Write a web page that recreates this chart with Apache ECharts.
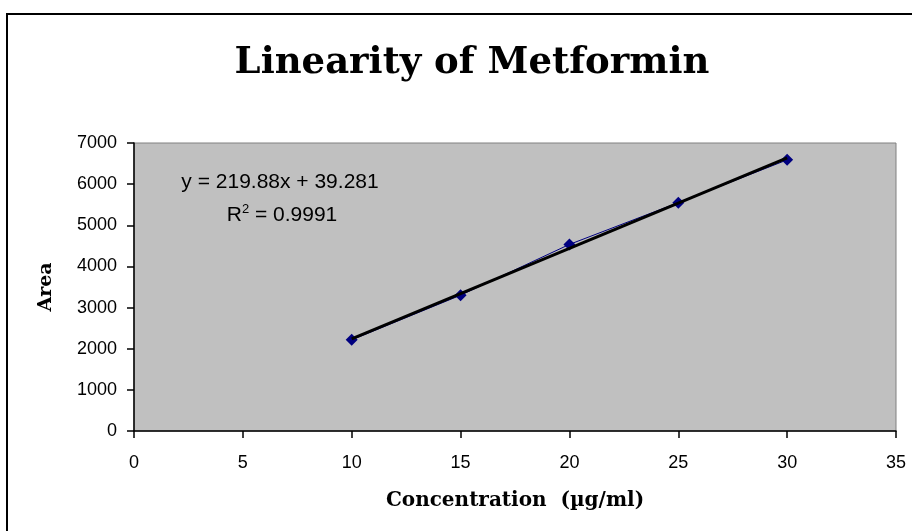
<!DOCTYPE html>
<html>
<head>
<meta charset="utf-8">
<script src="https://cdn.jsdelivr.net/npm/echarts@6/dist/echarts.min.js"></script>
<style>html,body{margin:0;padding:0;background:#fff;}#c{width:912px;height:531px;}</style>
</head>
<body>
<div id="c"></div>
<script>
const concentration = [10, 15, 20, 25, 30];
const area = [2215, 3300, 4535, 5550, 6590];
const trendX = [10, 30];
const trendY = [2238.08, 6635.68];
const xTicks = [0, 5, 10, 15, 20, 25, 30, 35];
const yTicks = [0, 1000, 2000, 3000, 4000, 5000, 6000, 7000];
const titleText = 'Linearity of Metformin';
const eqText = 'y = 219.88x + 39.281';
const r2Text = '0.9991';

const chart = echarts.init(document.getElementById('c'));
const serif = 'DejaVu Serif';
const sans = 'Liberation Sans';
chart.setOption({
  animation: false,
  backgroundColor: '#ffffff',
  title: {
    text: titleText, left: 467, top: 40, textAlign: 'center',
    textStyle: {fontFamily: serif, fontWeight: 'bold', fontSize: 37, color: '#000'}
  },
  grid: {left: 134, top: 143, right: 16, bottom: 100, show: true,
    backgroundColor: '#c0c0c0', borderColor: '#808080', borderWidth: 1},
  xAxis: {
    type: 'value', min: xTicks[0], max: xTicks[xTicks.length-1], interval: 5,
    name: 'Concentration  (µg/ml)', nameLocation: 'middle', nameGap: 60,
    nameTextStyle: {fontFamily: serif, fontWeight: 'bold', fontSize: 20, color: '#000'},
    axisLine: {show: true, lineStyle: {color: '#000', width: 1.5}},
    axisTick: {show: true, length: 7, lineStyle: {color: '#000', width: 1.5}},
    axisLabel: {fontFamily: sans, fontSize: 18, color: '#000', margin: 23},
    splitLine: {show: false}
  },
  yAxis: {
    type: 'value', min: yTicks[0], max: yTicks[yTicks.length-1], interval: 1000,
    name: 'Area', nameLocation: 'middle', nameGap: 78,
    nameTextStyle: {fontFamily: serif, fontWeight: 'bold', fontSize: 19, color: '#000'},
    axisLine: {show: true, lineStyle: {color: '#000', width: 1.5}},
    axisTick: {show: true, length: 7, lineStyle: {color: '#000', width: 1.5}},
    axisLabel: {fontFamily: sans, fontSize: 18, color: '#000', margin: 17,
      formatter: v => String(v)},
    splitLine: {show: false}
  },
  series: [
    {
      type: 'line', data: concentration.map((x, i) => [x, area[i]]),
      symbol: 'diamond', symbolSize: 12,
      lineStyle: {color: '#000080', width: 1},
      itemStyle: {color: '#000080'}, z: 2
    },
    {
      type: 'line', data: trendX.map((x, i) => [x, trendY[i]]),
      symbol: 'none', lineStyle: {color: '#000', width: 3}, z: 3
    }
  ],
  graphic: [
    {type: 'rect', shape: {x: 7, y: 14, width: 930, height: 540},
      style: {fill: 'none', stroke: '#000', lineWidth: 2}, z: 10},
    {type: 'text', x: 280, y: 182, z: 10,
      style: {text: eqText, font: '21px "Liberation Sans"', fill: '#000',
        textAlign: 'center', textVerticalAlign: 'middle'}},
    {type: 'text', x: 282, y: 215, z: 10,
      style: {text: 'R{sup|2} = ' + r2Text, fill: '#000', textAlign: 'center', textVerticalAlign: 'middle',
        font: '21px "Liberation Sans"',
        rich: {sup: {fontSize: 13, fontFamily: sans, verticalAlign: 'top', padding: [0, 0, 11, 0], fill: '#000'}}}}
  ]
});
</script>
</body>
</html>
